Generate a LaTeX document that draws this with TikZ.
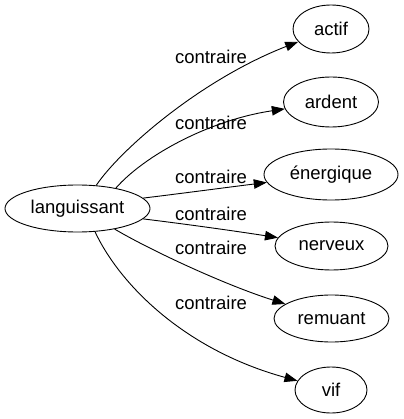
\documentclass[tikz,border=0pt]{standalone}
\usepackage{fontspec}
\setmainfont{Liberation Sans}
\usetikzlibrary{shapes.geometric,arrows.meta}
\tikzset{
  word/.style={ellipse, draw, line width=0.9pt, inner sep=0pt, font=\fontsize{18.5}{22}\selectfont},
  rel/.style={font=\fontsize{18.5}{22}\selectfont, inner sep=0pt},
  edge/.style={line width=0.9pt, -{Triangle[length=13pt,width=9.5pt]}},
}
\begin{document}
\begin{tikzpicture}[x=1pt,y=-1pt]
\useasboundingbox (0,0) rectangle (403,419);
\node[word, minimum width=145pt, minimum height=47pt] (lang) at (77.5,208.5) {languissant};
\node[word, minimum width=76pt, minimum height=48pt] (actif) at (331,29) {actif};
\node[word, minimum width=95pt, minimum height=50pt] (ardent) at (331,102) {ardent};
\node[word, minimum width=134pt, minimum height=51pt] (energ) at (331,174.5) {énergique};
\node[word, minimum width=113pt, minimum height=48pt] (nerv) at (331.5,246) {nerveux};
\node[word, minimum width=115pt, minimum height=47pt] (remu) at (331.5,318.5) {remuant};
\node[word, minimum width=72pt, minimum height=46pt] (vif) at (331,390) {vif};

\draw[edge] (lang.51) .. controls (120,150) and (200,80) .. (actif);
\draw[edge] (lang.28) .. controls (145,155) and (210,120) .. (ardent);
\draw[edge] (lang.9) .. controls (185,193) and (230,187) .. (energ);
\draw[edge] (lang.-9) .. controls (185,224) and (235,231) .. (nerv);
\draw[edge] (lang.-29) .. controls (150,250) and (225,285) .. (remu);
\draw[edge] (lang.-53) .. controls (120,285) and (185,350) .. (vif);

\node[rel] (l1) at (211,57) {contraire};
\node[rel] (l2) at (211,123) {contraire};
\node[rel] (l3) at (211,177) {contraire};
\node[rel] (l4) at (211,214) {contraire};
\node[rel] (l5) at (211,248) {contraire};
\node[rel] (l6) at (211,303) {contraire};
\end{tikzpicture}
\end{document}
